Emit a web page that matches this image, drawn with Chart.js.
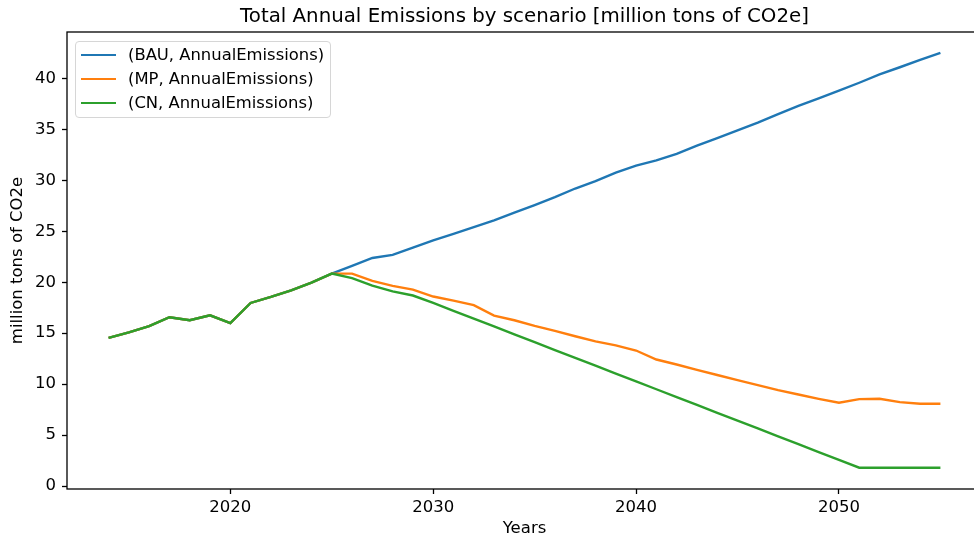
<!DOCTYPE html>
<html>
<head>
<meta charset="utf-8">
<script src="https://cdn.jsdelivr.net/npm/chart.js@4.4.1/dist/chart.umd.min.js"></script>
<style>
  html, body { margin: 0; padding: 0; background: #ffffff; overflow: hidden; }
  #wrap { position: relative; width: 974px; height: 543px; overflow: hidden; }
  #c { position: absolute; left: 0; top: 0; }
  #legend {
    position: absolute; left: 75px; top: 41px; width: 254px; height: 75px;
    border: 1px solid #d6d6d6; border-radius: 4px; background: rgba(255,255,255,0.8);
    font-family: "DejaVu Sans", sans-serif; font-size: 16.4px; color: #000;
  }
  .row { position: absolute; left: 0; height: 24px; line-height: 24px; white-space: nowrap; }
  .swatch { position: absolute; left: 5px; top: 11px; width: 35px; height: 2.4px; }
  .lbl { position: absolute; left: 52px; top: 0; }
</style>
</head>
<body>
<div id="wrap">
  <canvas id="c" width="984" height="543"></canvas>
  <div id="legend"></div>
</div>
<script>
// Years on the horizontal axis
const years = [2014, 2015, 2016, 2017, 2018, 2019, 2020, 2021, 2022, 2023, 2024, 2025,
  2026, 2027, 2028, 2029, 2030, 2031, 2032, 2033, 2034, 2035, 2036, 2037, 2038, 2039, 2040,
  2041, 2042, 2043, 2044, 2045, 2046, 2047, 2048, 2049, 2050, 2051, 2052, 2053, 2054, 2055];

// Shared history 2014-2025
const history = [14.54, 15.08, 15.7, 16.57, 16.27, 16.76, 15.98, 17.97, 18.56, 19.2, 19.97, 20.85];

// Business as usual, 2026-2055
const bauFuture = [21.6, 22.38, 22.68, 23.4, 24.1, 24.74, 25.4, 26.08, 26.83, 27.58, 28.36, 29.2, 29.93, 30.75, 31.44,
  31.96, 32.6, 33.4, 34.15, 34.9, 35.66, 36.5, 37.3, 38.04, 38.8, 39.58, 40.4, 41.1, 41.83, 42.52];

// Mitigation pathway, 2026-2055
const mpFuture = [20.85, 20.13, 19.64, 19.28, 18.6, 18.2, 17.75, 16.73, 16.27, 15.72, 15.23, 14.7, 14.2, 13.8, 13.3,
  12.42, 11.93, 11.4, 10.9, 10.4, 9.9, 9.41, 8.98, 8.56, 8.17, 8.53, 8.56, 8.24, 8.07, 8.07];

// Carbon neutral, 2026-2055
const cnFuture = [20.4, 19.67, 19.1, 18.7, 17.97, 17.2, 16.43, 15.66, 14.89, 14.12, 13.35, 12.58, 11.81, 11.04, 10.27,
  9.5, 8.73, 7.96, 7.19, 6.42, 5.65, 4.88, 4.11, 3.34, 2.57, 1.8, 1.8, 1.8, 1.8, 1.8];

const seriesNames = ["(BAU, AnnualEmissions)", "(MP, AnnualEmissions)", "(CN, AnnualEmissions)"];
const seriesColors = ["#1f77b4", "#ff7f0e", "#2ca02c"];

const xTicks = [2020, 2030, 2040, 2050];
const yTicks = [0, 5, 10, 15, 20, 25, 30, 35, 40];

const chartTitle = 'Total Annual Emissions by scenario [million tons of CO2e]';

const bau = history.concat(bauFuture);
const mp = history.concat(mpFuture);
const cn = history.concat(cnFuture);

function points(values) {
  return years.map((yr, i) => ({ x: yr, y: values[i] }));
}

const FONT = "'DejaVu Sans', sans-serif";

// Box around the plotting area, plus the title centred over it
const frame = {
  id: 'frame',
  afterDatasetsDraw(chart) {
    const { ctx, chartArea: a } = chart;
    ctx.save();
    ctx.strokeStyle = '#000';
    ctx.lineWidth = 1.3;
    ctx.strokeRect(a.left, a.top, a.right - a.left, a.bottom - a.top);
    ctx.fillStyle = '#000';
    ctx.font = "19.8px " + FONT;
    ctx.textAlign = 'center';
    ctx.textBaseline = 'middle';
    ctx.fillText(chartTitle, (a.left + a.right) / 2, 16.5);
    ctx.restore();
  }
};

const tickStyle = { display: true, drawOnChartArea: false, drawTicks: true, tickLength: 5, tickWidth: 1.3, tickColor: '#000' };

new Chart(document.getElementById('c'), {
  type: 'line',
  data: {
    datasets: [
      { label: seriesNames[0], data: points(bau), borderColor: seriesColors[0], order: 2 },
      { label: seriesNames[1], data: points(mp), borderColor: seriesColors[1], order: 1 },
      { label: seriesNames[2], data: points(cn), borderColor: seriesColors[2], order: 0 }
    ]
  },
  options: {
    responsive: false,
    animation: false,
    events: [],
    layout: { padding: { left: 0, right: 2, top: 32, bottom: 0 } },
    elements: {
      line: { borderWidth: 2.4, tension: 0, fill: false, borderCapStyle: 'butt' },
      point: { radius: 0 }
    },
    plugins: {
      legend: { display: false },
      tooltip: { enabled: false },
      title: { display: false }
    },
    scales: {
      x: {
        type: 'linear',
        min: 2011.95, max: 2057.05,
        grid: tickStyle,
        border: { display: false },
        afterBuildTicks: s => { s.ticks = xTicks.map(v => ({ value: v })); },
        afterFit: s => { s.height = 54; },
        ticks: {
          color: '#000', padding: 4, maxRotation: 0,
          font: { family: FONT, size: 16.5 },
          callback: v => String(v)
        },
        title: {
          display: true, text: 'Years', color: '#000',
          font: { family: FONT, size: 16.5, lineHeight: 1.2 },
          padding: { top: 0, bottom: 4.6 }
        }
      },
      y: {
        type: 'linear',
        min: -0.29, max: 44.56,
        grid: tickStyle,
        border: { display: false },
        afterBuildTicks: s => { s.ticks = yTicks.map(v => ({ value: v })); },
        afterFit: s => { s.width = 67; },
        ticks: {
          color: '#000', padding: 6,
          font: { family: FONT, size: 16.5 },
          callback: v => String(v)
        },
        title: {
          display: true, text: 'million tons of CO2e', color: '#000',
          font: { family: FONT, size: 16.5, lineHeight: 1.2 },
          padding: { top: 8.2, bottom: 0 }
        }
      }
    }
  },
  plugins: [frame]
});

// Legend entries
const legend = document.getElementById('legend');
seriesNames.forEach((name, i) => {
  const row = document.createElement('div');
  row.className = 'row';
  row.style.top = (1 + i * 24) + 'px';
  row.style.width = '100%';
  const sw = document.createElement('span');
  sw.className = 'swatch';
  sw.style.background = seriesColors[i];
  const lb = document.createElement('span');
  lb.className = 'lbl';
  lb.textContent = name;
  row.appendChild(sw);
  row.appendChild(lb);
  legend.appendChild(row);
});
</script>
</body>
</html>
